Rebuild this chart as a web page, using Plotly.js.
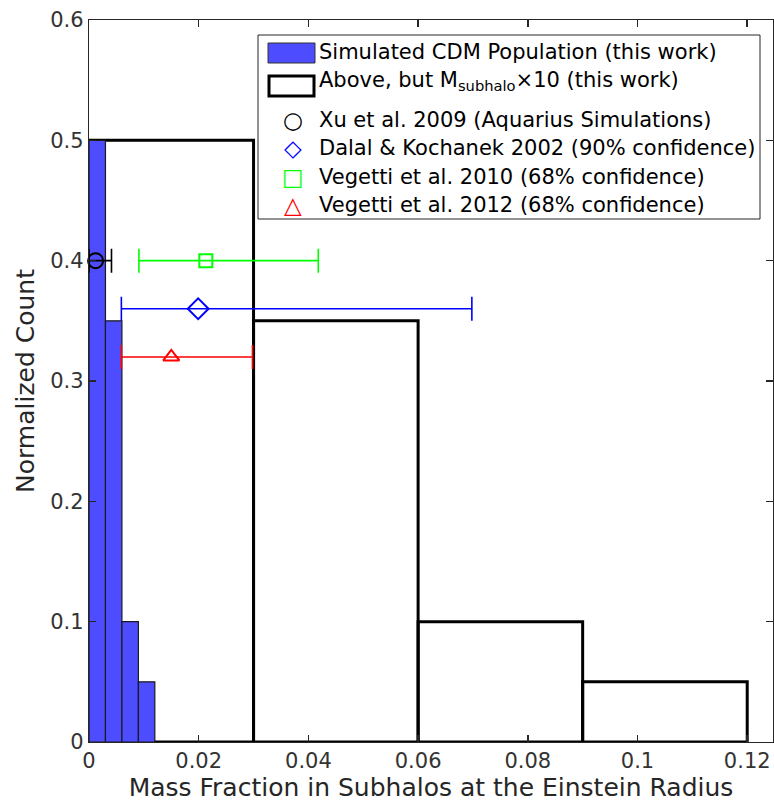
<!DOCTYPE html>
<html>
<head>
<meta charset="utf-8">
<script src="https://cdn.plot.ly/plotly-3.0.1.min.js"></script>
<style>html,body{margin:0;padding:0;background:#fff;}#chart{width:774px;height:808px;}</style>
</head>
<body>
<div id="chart"></div>
<script>
// ---- data ----
const simBinEdgesLeft = [0, 0.003, 0.006, 0.009];
const simBinWidth = 0.003;
const simCounts = [0.5, 0.35, 0.1, 0.05];

const scaledBinEdgesLeft = [0, 0.03, 0.06, 0.09];
const scaledBinWidth = 0.03;
const scaledCounts = [0.5, 0.35, 0.1, 0.05];

const obsNames = ["Xu et al. 2009 (Aquarius Simulations)", "Dalal & Kochanek 2002 (90% confidence)", "Vegetti et al. 2010 (68% confidence)", "Vegetti et al. 2012 (68% confidence)"];
const obsX = [0.0012, 0.0199, 0.0213, 0.0150];
const obsY = [0.40, 0.36, 0.40, 0.32];
const obsXLow = [0.0, 0.0059, 0.0091, 0.0059];
const obsXHigh = [0.0041, 0.0698, 0.0418, 0.0298];

const xTicks = [0, 0.02, 0.04, 0.06, 0.08, 0.1, 0.12];
const yTicks = [0, 0.1, 0.2, 0.3, 0.4, 0.5, 0.6];

// ---- styles ----
const obsColors = ["#000000", "#0000ff", "#00ff00", "#ff0000"];
const obsSymbols = ["circle-open", "diamond-open", "square-open", "triangle-up-open"];
const obsSizes = [15, 16, 13, 14];
const obsGlyphs = ["○", "◇", "□", "△"];
const FONT = "DejaVu Sans";
const AX = "#262626";

const traces = [];
traces.push({
  type: "bar",
  x: scaledBinEdgesLeft.map(v => v + scaledBinWidth / 2),
  y: scaledCounts,
  width: scaledBinWidth,
  marker: {color: "rgba(0,0,0,0)", line: {color: "#000", width: 3}},
  showlegend: false, hoverinfo: "skip"
});
traces.push({
  type: "bar",
  x: simBinEdgesLeft.map(v => v + simBinWidth / 2),
  y: simCounts,
  width: simBinWidth,
  marker: {color: "#4d4dff", line: {color: "#1a1a1a", width: 1.2}},
  showlegend: false, hoverinfo: "skip"
});
for (let i = 0; i < obsX.length; i++) {
  traces.push({
    type: "scatter", mode: "markers",
    x: [obsX[i]], y: [obsY[i]],
    error_x: {type: "data", symmetric: false,
      array: [obsXHigh[i] - obsX[i]], arrayminus: [obsX[i] - obsXLow[i]],
      color: obsColors[i], thickness: 1.6, width: 12},
    marker: {symbol: obsSymbols[i], size: obsSizes[i], color: obsColors[i], line: {width: 2, color: obsColors[i]}},
    name: obsNames[i], showlegend: false, cliponaxis: false
  });
}

// ---- custom legend (pixel -> paper helpers) ----
const L = 89, R = 773, T = 20, B = 742;
const px = v => (v - L) / (R - L);
const py = v => (B - v) / (B - T);

const shapes = [
  {type: "rect", xref: "paper", yref: "paper", x0: px(258), x1: px(760), y0: py(219), y1: py(35),
   line: {color: AX, width: 1}, fillcolor: "#fff", layer: "above"},
  {type: "rect", xref: "paper", yref: "paper", x0: px(268), x1: px(315), y0: py(63), y1: py(43),
   line: {color: "#333", width: 1}, fillcolor: "#4d4dff", layer: "above"},
  {type: "rect", xref: "paper", yref: "paper", x0: px(269), x1: px(314), y0: py(96), y1: py(76),
   line: {color: "#000", width: 3}, fillcolor: "#fff", layer: "above"}
];
const legendTexts = ["Simulated CDM Population (this work)", "Above, but M<sub>subhalo</sub>×10 (this work)"].concat(obsNames);
const rowY = [52, 84, 120, 148, 177, 205];
const annotations = [];
for (let i = 0; i < legendTexts.length; i++) {
  annotations.push({xref: "paper", yref: "paper", x: px(317), y: py(rowY[i]),
    xanchor: "left", yanchor: i === 1 ? "top" : "middle", text: legendTexts[i], showarrow: false,
    font: {family: FONT, size: 21, color: "#000"}, yshift: i === 1 ? 18 : 0});
}
for (let i = 0; i < obsGlyphs.length; i++) {
  annotations.push({xref: "paper", yref: "paper", x: px(293), y: py(rowY[i + 2]),
    xanchor: "center", yanchor: "middle", text: obsGlyphs[i], showarrow: false,
    font: {family: FONT, size: 23, color: obsColors[i]}});
}

const layout = {
  width: 774, height: 808,
  margin: {l: L, r: 774 - R, t: T, b: 808 - B},
  paper_bgcolor: "#fff", plot_bgcolor: "#fff",
  barmode: "overlay", bargap: 0,
  showlegend: false,
  font: {family: FONT, color: AX, size: 22},
  xaxis: {range: [0, 0.1247], tickvals: xTicks, ticktext: xTicks.map(String),
    ticks: "inside", ticklen: 7, tickwidth: 1.5, tickcolor: AX, showline: true, linecolor: AX, linewidth: 1.2,
    mirror: "ticks", showgrid: false, zeroline: false,
    title: {text: "Mass Fraction in Subhalos at the Einstein Radius", font: {family: FONT, size: 25, color: AX}, standoff: 3},
    tickfont: {family: FONT, size: 21, color: "#333"}},
  yaxis: {range: [0, 0.6], tickvals: yTicks, ticktext: yTicks.map(String),
    ticks: "inside", ticklen: 7, tickwidth: 1.5, tickcolor: AX, showline: true, linecolor: AX, linewidth: 1.2,
    mirror: "ticks", showgrid: false, zeroline: false,
    title: {text: "Normalized Count", font: {family: FONT, size: 25, color: AX}, standoff: 8},
    tickfont: {family: FONT, size: 21, color: "#333"}},
  shapes: shapes,
  annotations: annotations
};

Plotly.newPlot("chart", traces, layout, {displayModeBar: false, staticPlot: true});
</script>
</body>
</html>
